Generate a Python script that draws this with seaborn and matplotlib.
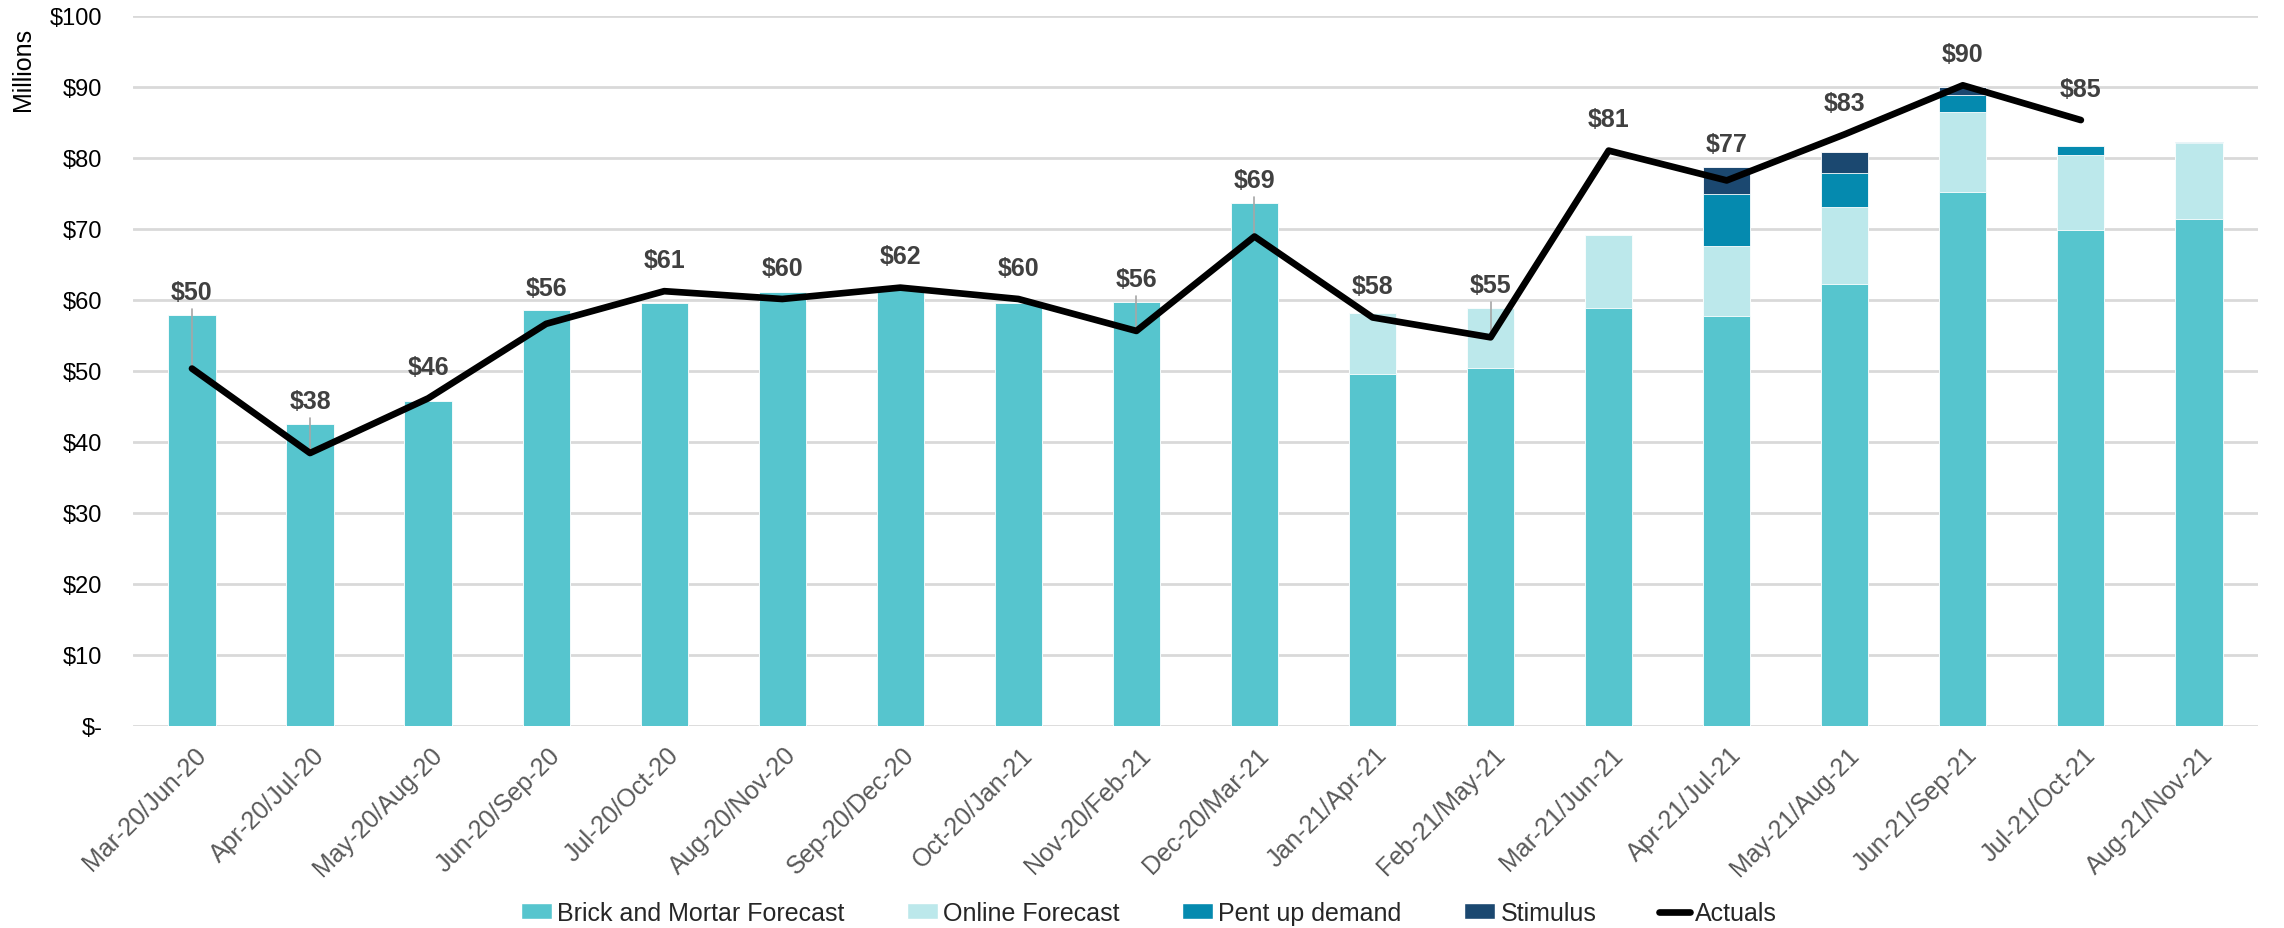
import numpy as np
import pandas as pd
import matplotlib
matplotlib.use("Agg")
import matplotlib.pyplot as plt
import matplotlib.transforms as mtransforms
from matplotlib.patches import Patch
from matplotlib.lines import Line2D
import seaborn as sns

categories = ["Mar-20/Jun-20", "Apr-20/Jul-20", "May-20/Aug-20", "Jun-20/Sep-20",
              "Jul-20/Oct-20", "Aug-20/Nov-20", "Sep-20/Dec-20", "Oct-20/Jan-21",
              "Nov-20/Feb-21", "Dec-20/Mar-21", "Jan-21/Apr-21", "Feb-21/May-21",
              "Mar-21/Jun-21", "Apr-21/Jul-21", "May-21/Aug-21", "Jun-21/Sep-21",
              "Jul-21/Oct-21", "Aug-21/Nov-21"]
brick = [57.9, 42.5, 45.8, 58.5, 59.6, 61.1, 61.3, 59.5, 59.7, 73.6,
         49.5, 50.4, 58.9, 57.7, 62.2, 75.1, 69.8, 71.4]
online = [0, 0, 0, 0, 0, 0, 0, 0, 0, 0,
          8.6, 8.5, 10.2, 9.9, 10.8, 11.4, 10.6, 10.7]
pent_up = [0, 0, 0, 0, 0, 0, 0, 0, 0, 0,
           0, 0, 0, 7.3, 4.8, 2.4, 1.2, 0.15]
stimulus = [0, 0, 0, 0, 0, 0, 0, 0, 0, 0,
            0, 0, 0, 3.8, 3.0, 1.0, 0, 0]
actuals = [50.3, 38.4, 46.1, 56.6, 61.2, 60.1, 61.7, 60.1, 55.6, 68.9,
           57.5, 54.7, 81.0, 76.8, 83.3, 90.2, 85.3, np.nan]
actual_labels = ["$50", "$38", "$46", "$56", "$61", "$60", "$62", "$60", "$56",
                 "$69", "$58", "$55", "$81", "$77", "$83", "$90", "$85"]
yticks = [0, 10, 20, 30, 40, 50, 60, 70, 80, 90, 100]
ytick_labels = ["$-", "$10", "$20", "$30", "$40", "$50", "$60", "$70", "$80", "$90", "$100"]

c_brick = "#56C5CE"
c_online = "#BCE8EB"
c_pent = "#058AAF"
c_stim = "#1B4870"
c_grid = "#D9D9D9"

sns.set_theme(style="white")
plt.rcParams['font.family'] = ['Liberation Sans', 'DejaVu Sans']

df = pd.DataFrame({"cat": categories, "brick": brick, "online": online,
                   "pent": pent_up, "stim": stimulus})
df["c1"] = df["brick"]
df["c2"] = df["c1"] + df["online"]
df["c3"] = df["c2"] + df["pent"]
df["c4"] = df["c3"] + df["stim"]

fig = plt.figure(figsize=(22.84, 9.29), dpi=100)
ax = fig.add_axes([0.0582, 0.2178, 0.9304, 0.7642])

for col, color in [("c4", c_stim), ("c3", c_pent), ("c2", c_online), ("c1", c_brick)]:
    sns.barplot(data=df, x="cat", y=col, order=categories, color=color,
                width=0.4, saturation=1, ax=ax, edgecolor="white", linewidth=0.6,
                zorder=2)

xpos = np.arange(len(categories))
ldf = pd.DataFrame({"x": xpos, "y": actuals}).dropna()
sns.lineplot(data=ldf, x="x", y="y", color="black", linewidth=4.8, ax=ax,
             zorder=4, sort=False)

# Data labels for actuals
totals = df["c4"].values
for i, lab in enumerate(actual_labels):
    v = actuals[i]
    ly = max(v + 4.4, totals[i] + 3.2)
    ax.text(i, ly, lab, ha="center", va="center", fontsize=18, fontweight="bold",
            color="#404040", zorder=5)
    if ly - v > 6:
        ax.plot([i, i], [v, ly - 2.4], color="#A6A6A6", linewidth=1.2, zorder=3)

ax.set_xlim(-0.5, len(categories) - 0.5)
ax.set_ylim(0, 100)
ax.set_yticks(yticks)
ax.set_yticklabels(ytick_labels, fontsize=17, color="black")
ax.yaxis.grid(True, color=c_grid, linewidth=2)
ax.set_axisbelow(True)
for s in ax.spines.values():
    s.set_visible(False)
ax.tick_params(axis="y", length=0, pad=22)
ax.tick_params(axis="x", length=0, pad=12)
ax.set_xlabel("")
ax.set_ylabel("")
ax.set_xticks(xpos)
ax.set_xticklabels(categories, rotation=45, ha="right", va="top",
                   rotation_mode="anchor", fontsize=18, color="#595959")
offset = mtransforms.ScaledTranslation(0.02, 0, fig.dpi_scale_trans)
for t in ax.get_xticklabels():
    t.set_transform(t.get_transform() + offset)

fig.text(0.0101, 0.925, "Millions", rotation=90, ha="center", va="center",
         fontsize=18, color="black")

handles = [Patch(facecolor=c_brick, label="Brick and Mortar Forecast"),
           Patch(facecolor=c_online, label="Online Forecast"),
           Patch(facecolor=c_pent, label="Pent up demand"),
           Patch(facecolor=c_stim, label="Stimulus"),
           Line2D([0], [0], color="black", linewidth=4.8, label="Actuals")]
fig.legend(handles=handles, loc="center", bbox_to_anchor=(0.503, 0.016),
           ncol=5, frameon=False, fontsize=18, handlelength=1.25,
           handleheight=0.6, handletextpad=0.2, columnspacing=2.5)

fig.savefig("out.png", dpi=100)
